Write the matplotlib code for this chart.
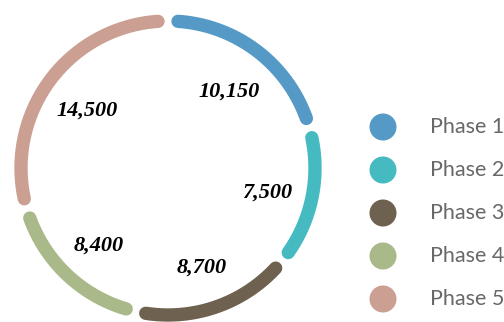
import numpy as np
import matplotlib
matplotlib.use("Agg")
import matplotlib.pyplot as plt

# data
phases = ["Phase 1", "Phase 2", "Phase 3", "Phase 4", "Phase 5"]
valeurs = [10150, 7500, 8700, 8400, 14500]
etiquettes = ["10,150", "7,500", "8,700", "8,400", "14,500"]
couleurs = ["#559ac6", "#45bac1", "#6f614f", "#aab98a", "#cba093"]

fig = plt.figure(figsize=(5.04, 3.22), dpi=100)
ax = fig.add_axes([0, 0, 1, 1])
ax.set_xlim(0, 504)
ax.set_ylim(0, 322)
ax.set_aspect("equal")
ax.axis("off")

# anneau
cx, cy, r = 168, 154, 147
gap = 3.9  # degres retires a chaque bout
total = sum(valeurs)
debut = 90.0
for i, v in enumerate(valeurs):
    span = v / total * 360
    a0 = debut - gap
    a1 = debut - span + gap
    t = np.radians(np.linspace(a0, a1, 200))
    ax.plot(cx + r * np.cos(t), cy + r * np.sin(t), color=couleurs[i],
            lw=9.6, solid_capstyle="round")
    mid = np.radians(debut - span / 2)
    ax.text(cx + 0.69 * r * np.cos(mid), cy + 0.69 * r * np.sin(mid) - 4, etiquettes[i],
            ha="center", va="center", fontsize=16, fontweight="bold",
            fontstyle="italic", family="Liberation Serif", color="black")
    debut -= span

# legende
for i, p in enumerate(phases):
    y = 322 - (127 + 43 * i)
    ax.scatter([383], [y], s=27 ** 2 * 0.52, color=couleurs[i], edgecolors="none")
    ax.text(430, y, p, ha="left", va="center", fontsize=15.5, family="Lato",
            color="#686868")

fig.savefig("out.png", dpi=100)
